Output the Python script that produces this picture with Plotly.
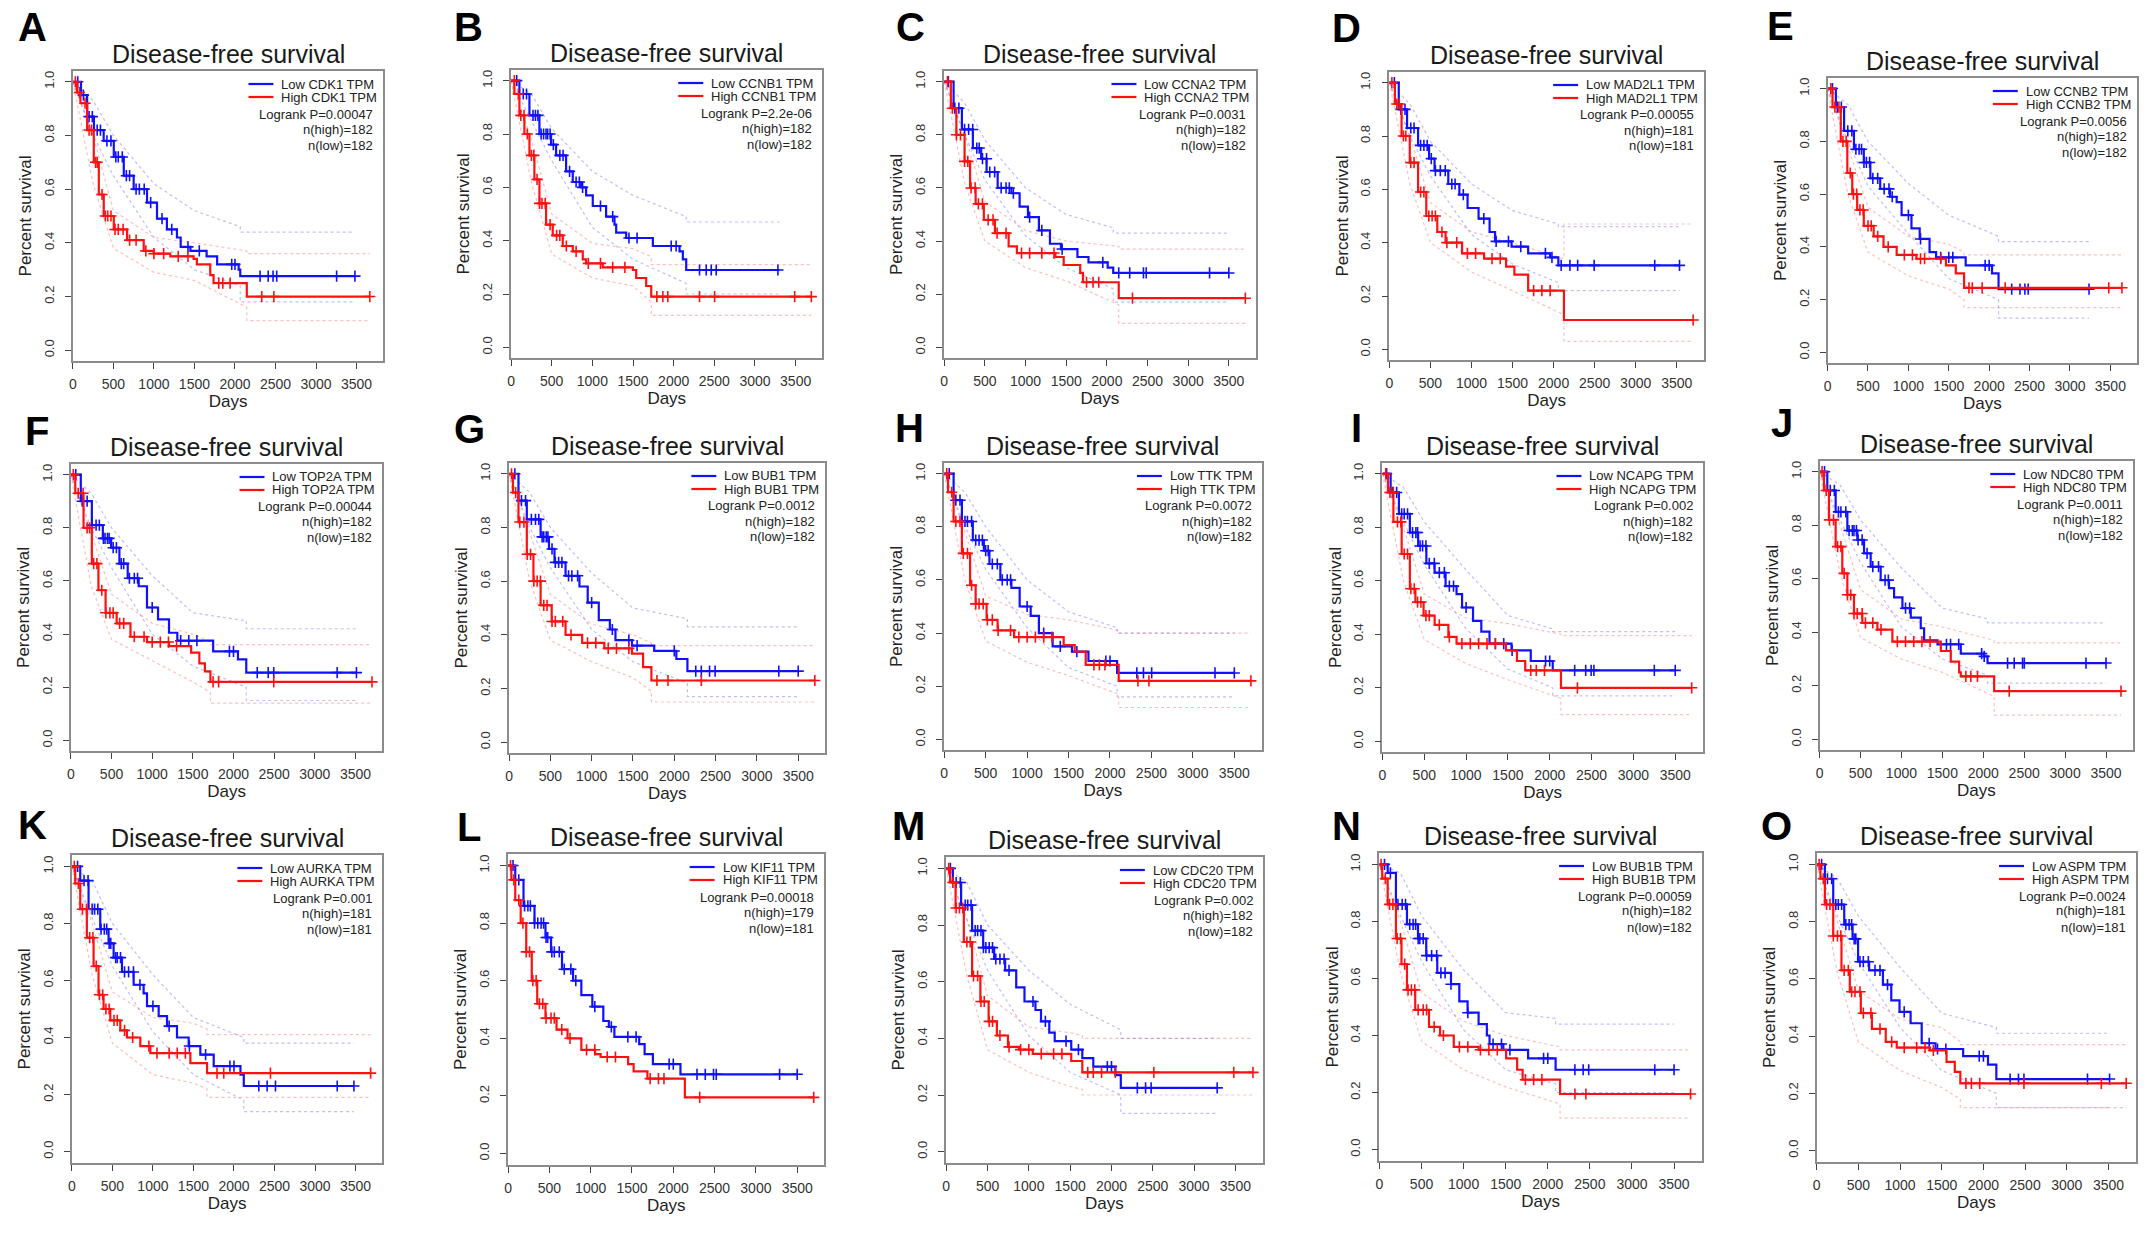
import plotly.graph_objects as go

W, H = 2150, 1235
FONT = "Liberation Sans, Arial, sans-serif"

# ---------------- tick labels ----------------
x_tick_vals = [0, 500, 1000, 1500, 2000, 2500, 3000, 3500]
y_tick_vals = [0.0, 0.2, 0.4, 0.6, 0.8, 1.0]
y_tick_text = ["0.0", "0.2", "0.4", "0.6", "0.8", "1.0"]

# ---------------- panel meta ----------------
panel_letters = ["A", "B", "C", "D", "E", "F", "G", "H", "I", "J", "K", "L", "M", "N", "O"]
genes = ["CDK1", "CCNB1", "CCNA2", "MAD2L1", "CCNB2", "TOP2A", "BUB1", "TTK", "NCAPG",
         "NDC80", "AURKA", "KIF11", "CDC20", "BUB1B", "ASPM"]
logrank_p = ["0.00047", "2.2e-06", "0.0031", "0.00055", "0.0056", "0.00044", "0.0012", "0.0072",
             "0.002", "0.0011", "0.001", "0.00018", "0.002", "0.00059", "0.0024"]
n_high = [182, 182, 182, 181, 182, 182, 182, 182, 182, 182, 181, 179, 182, 182, 181]
n_low = [182, 182, 182, 181, 182, 182, 182, 182, 182, 182, 181, 181, 182, 182, 181]

# ---------------- A: CDK1 ----------------
a_low_days = [0, 100, 176, 260, 380, 505, 628, 750, 915, 1038, 1160, 1284, 1330, 1450, 1650, 1780, 2045, 2065, 3480]
a_low_surv = [1.0, 0.95, 0.87, 0.82, 0.78, 0.72, 0.65, 0.60, 0.55, 0.49, 0.45, 0.42, 0.385, 0.37, 0.35, 0.32, 0.30, 0.276, 0.276]
a_high_days = [0, 50, 94, 176, 258, 320, 381, 505, 669, 874, 997, 1202, 1490, 1530, 1695, 1736, 2146, 3664]
a_high_surv = [1.0, 0.96, 0.92, 0.82, 0.70, 0.58, 0.50, 0.45, 0.41, 0.37, 0.36, 0.35, 0.34, 0.32, 0.28, 0.25, 0.20, 0.20]
a_low_cens = [60, 130, 200, 240, 300, 340, 420, 470, 530, 560, 610, 660, 700, 780, 820, 880, 960, 1100, 1220, 1420, 1560, 1960, 2000, 2310, 2410, 2470, 2515, 3254, 3480]
a_high_cens = [30, 80, 150, 200, 230, 280, 300, 360, 400, 430, 470, 520, 560, 620, 700, 780, 900, 1000, 1120, 1300, 1420, 1800, 1850, 1940, 2330, 2480, 3664]
a_low_ci_days = [0, 250, 500, 1000, 1500, 2065, 2065, 3480]
a_low_ci_up = [1.0, 0.93, 0.80, 0.62, 0.52, 0.46, 0.44, 0.44]
a_low_ci_lo = [1.0, 0.80, 0.65, 0.42, 0.30, 0.24, 0.18, 0.18]
a_high_ci_days = [0, 250, 500, 1000, 1500, 2146, 2146, 3664]
a_high_ci_up = [1.0, 0.80, 0.52, 0.42, 0.40, 0.37, 0.36, 0.36]
a_high_ci_lo = [1.0, 0.62, 0.38, 0.29, 0.26, 0.16, 0.11, 0.11]

# ---------------- B: CCNB1 ----------------
b_low_days = [0, 103, 226, 349, 492, 554, 677, 759, 862, 923, 1005, 1169, 1272, 1293, 1416, 1744, 2072, 2113, 2154, 3302]
b_low_surv = [1.0, 0.95, 0.87, 0.80, 0.76, 0.72, 0.66, 0.62, 0.60, 0.57, 0.53, 0.49, 0.46, 0.43, 0.41, 0.38, 0.36, 0.33, 0.29, 0.29]
b_high_days = [0, 41, 103, 164, 226, 287, 349, 431, 513, 636, 759, 882, 923, 1128, 1498, 1539, 1662, 1724, 3693]
b_high_surv = [1.0, 0.95, 0.87, 0.80, 0.72, 0.63, 0.54, 0.46, 0.42, 0.38, 0.36, 0.33, 0.315, 0.30, 0.29, 0.26, 0.23, 0.19, 0.19]
b_low_cens = [70, 150, 190, 270, 300, 330, 370, 400, 430, 450, 480, 520, 600, 640, 720, 800, 840, 880, 1100, 1250, 1450, 1550, 1970, 2030, 2318, 2400, 2462, 2523, 3282]
b_high_cens = [40, 90, 120, 160, 200, 250, 280, 320, 350, 380, 420, 480, 560, 600, 680, 800, 950, 1100, 1250, 1400, 1793, 1867, 1928, 2318, 2503, 3488, 3693]
b_low_ci_days = [0, 250, 500, 1000, 1500, 2154, 2154, 3302]
b_low_ci_up = [1.0, 0.95, 0.82, 0.66, 0.57, 0.49, 0.47, 0.47]
b_low_ci_lo = [1.0, 0.85, 0.70, 0.45, 0.33, 0.24, 0.20, 0.20]
b_high_ci_days = [0, 250, 500, 1000, 1500, 1724, 1724, 3693]
b_high_ci_up = [1.0, 0.78, 0.50, 0.39, 0.37, 0.34, 0.31, 0.31]
b_high_ci_lo = [1.0, 0.62, 0.35, 0.26, 0.23, 0.17, 0.12, 0.12]

# ---------------- C: CCNA2 ----------------
c_low_days = [0, 115, 217, 352, 454, 521, 657, 826, 927, 1029, 1164, 1300, 1435, 1638, 1774, 2010, 2078, 3500]
c_low_surv = [1.0, 0.90, 0.82, 0.75, 0.71, 0.66, 0.60, 0.58, 0.53, 0.49, 0.44, 0.39, 0.37, 0.34, 0.32, 0.30, 0.28, 0.28]
c_high_days = [0, 81, 149, 250, 318, 386, 487, 623, 792, 894, 1367, 1469, 1672, 1706, 2146, 3703]
c_high_surv = [1.0, 0.90, 0.80, 0.70, 0.60, 0.54, 0.48, 0.43, 0.38, 0.355, 0.34, 0.31, 0.28, 0.245, 0.185, 0.185]
c_low_cens = [50, 130, 180, 250, 300, 350, 400, 430, 470, 520, 560, 620, 700, 760, 800, 850, 1050, 1200, 1450, 1950, 2146, 2281, 2450, 2484, 3263, 3500]
c_high_cens = [40, 100, 150, 200, 250, 290, 330, 380, 420, 470, 540, 600, 650, 760, 950, 1050, 1200, 1350, 1750, 1830, 1900, 2315, 3703]
c_low_ci_days = [0, 250, 500, 1000, 1500, 2078, 2078, 3500]
c_low_ci_up = [1.0, 0.92, 0.78, 0.60, 0.50, 0.45, 0.43, 0.43]
c_low_ci_lo = [1.0, 0.80, 0.63, 0.42, 0.30, 0.22, 0.17, 0.17]
c_high_ci_days = [0, 250, 500, 1000, 1500, 2146, 2146, 3703]
c_high_ci_up = [1.0, 0.80, 0.55, 0.44, 0.40, 0.38, 0.37, 0.37]
c_high_ci_lo = [1.0, 0.62, 0.40, 0.30, 0.25, 0.16, 0.09, 0.09]

# ---------------- D: MAD2L1 ----------------
d_low_days = [0, 114, 215, 349, 483, 550, 717, 852, 952, 1086, 1220, 1287, 1488, 1690, 1958, 2058, 3534]
d_low_surv = [1.0, 0.90, 0.83, 0.765, 0.715, 0.67, 0.62, 0.58, 0.53, 0.49, 0.44, 0.405, 0.385, 0.36, 0.345, 0.315, 0.315]
d_high_days = [0, 67, 148, 248, 349, 449, 583, 684, 885, 1153, 1421, 1522, 1690, 2126, 3700]
d_high_surv = [1.0, 0.92, 0.80, 0.70, 0.59, 0.50, 0.44, 0.40, 0.36, 0.34, 0.31, 0.28, 0.22, 0.11, 0.11]
d_low_cens = [60, 140, 190, 260, 300, 380, 420, 460, 510, 560, 620, 680, 760, 800, 900, 1150, 1300, 1450, 1600, 1900, 1980, 2092, 2199, 2293, 2494, 3232, 3534]
d_high_cens = [30, 90, 120, 170, 200, 260, 300, 380, 420, 480, 520, 560, 640, 700, 820, 950, 1050, 1250, 1350, 1757, 1857, 1958, 3700]
d_low_ci_days = [0, 250, 500, 1000, 1500, 2058, 2058, 3534]
d_low_ci_up = [1.0, 0.92, 0.78, 0.62, 0.52, 0.47, 0.46, 0.46]
d_low_ci_lo = [1.0, 0.80, 0.65, 0.43, 0.32, 0.25, 0.22, 0.22]
d_high_ci_days = [0, 250, 500, 1000, 1500, 2126, 2126, 3700]
d_high_ci_up = [1.0, 0.80, 0.55, 0.44, 0.40, 0.34, 0.47, 0.47]
d_high_ci_lo = [1.0, 0.62, 0.40, 0.29, 0.22, 0.13, 0.03, 0.03]

# ---------------- E: CCNB2 ----------------
e_low_days = [0, 102, 204, 326, 448, 529, 651, 773, 855, 916, 1038, 1140, 1262, 1343, 1709, 2035, 2116, 3236]
e_low_surv = [1.0, 0.93, 0.84, 0.77, 0.72, 0.66, 0.62, 0.59, 0.57, 0.52, 0.47, 0.43, 0.38, 0.36, 0.33, 0.30, 0.24, 0.24]
e_high_days = [0, 61, 163, 244, 305, 366, 448, 570, 692, 855, 1099, 1465, 1587, 1689, 3643]
e_high_surv = [1.0, 0.93, 0.80, 0.68, 0.60, 0.54, 0.48, 0.44, 0.40, 0.37, 0.355, 0.33, 0.30, 0.245, 0.245]
e_low_cens = [60, 120, 170, 250, 300, 350, 390, 420, 450, 480, 520, 560, 620, 700, 760, 800, 1000, 1150, 1400, 1500, 1550, 1950, 2000, 2279, 2381, 2442, 2483, 3236]
e_high_cens = [40, 90, 140, 190, 230, 280, 320, 360, 400, 440, 500, 540, 620, 750, 950, 1050, 1150, 1200, 1400, 1750, 1791, 1913, 2198, 3480, 3643]
e_low_ci_days = [0, 250, 500, 1000, 1500, 2116, 2116, 3236]
e_low_ci_up = [1.0, 0.94, 0.80, 0.64, 0.52, 0.44, 0.42, 0.42]
e_low_ci_lo = [1.0, 0.80, 0.63, 0.45, 0.28, 0.20, 0.13, 0.13]
e_high_ci_days = [0, 250, 500, 1000, 1500, 1689, 1689, 3643]
e_high_ci_up = [1.0, 0.78, 0.55, 0.44, 0.41, 0.38, 0.37, 0.37]
e_high_ci_lo = [1.0, 0.60, 0.38, 0.29, 0.24, 0.20, 0.17, 0.17]

# ---------------- F: TOP2A ----------------
f_low_days = [0, 122, 258, 393, 495, 597, 699, 834, 936, 1072, 1207, 1309, 1750, 2055, 2157, 3513]
f_low_surv = [1.0, 0.90, 0.81, 0.76, 0.725, 0.665, 0.61, 0.58, 0.50, 0.455, 0.405, 0.375, 0.335, 0.305, 0.255, 0.255]
f_high_days = [0, 54, 156, 258, 339, 427, 563, 733, 936, 1207, 1479, 1580, 1648, 1716, 3703]
f_high_surv = [1.0, 0.93, 0.80, 0.665, 0.565, 0.48, 0.44, 0.39, 0.37, 0.355, 0.33, 0.29, 0.26, 0.22, 0.22]
f_low_cens = [60, 140, 200, 260, 310, 350, 400, 420, 450, 470, 520, 560, 620, 650, 720, 780, 820, 1000, 1350, 1450, 1550, 1950, 2000, 2292, 2427, 2495, 3275, 3512]
f_high_cens = [30, 90, 150, 200, 230, 280, 320, 380, 430, 480, 520, 600, 650, 780, 900, 1000, 1100, 1200, 1300, 1749, 1817, 2495, 3703]
f_low_ci_days = [0, 250, 500, 1000, 1500, 2157, 2157, 3513]
f_low_ci_up = [1.0, 0.93, 0.80, 0.62, 0.48, 0.45, 0.42, 0.42]
f_low_ci_lo = [1.0, 0.80, 0.65, 0.40, 0.28, 0.20, 0.15, 0.15]
f_high_ci_days = [0, 250, 500, 1000, 1500, 1716, 1716, 3703]
f_high_ci_up = [1.0, 0.78, 0.55, 0.44, 0.40, 0.37, 0.36, 0.36]
f_high_ci_lo = [1.0, 0.58, 0.38, 0.30, 0.22, 0.18, 0.14, 0.14]

# ---------------- G: BUB1 ----------------
g_low_days = [0, 114, 215, 382, 483, 550, 684, 852, 952, 1086, 1220, 1288, 1488, 1757, 2025, 2159, 3500]
g_low_surv = [1.0, 0.90, 0.83, 0.765, 0.72, 0.67, 0.62, 0.58, 0.52, 0.455, 0.42, 0.38, 0.36, 0.34, 0.31, 0.265, 0.265]
g_high_days = [0, 47, 114, 215, 295, 382, 516, 684, 885, 1153, 1488, 1622, 1723, 3701]
g_high_surv = [1.0, 0.93, 0.82, 0.70, 0.60, 0.51, 0.45, 0.40, 0.37, 0.35, 0.33, 0.28, 0.23, 0.23]
g_low_cens = [70, 150, 200, 270, 320, 360, 400, 420, 450, 470, 520, 560, 600, 640, 720, 760, 830, 1000, 1250, 1450, 1550, 2000, 2260, 2327, 2427, 2494, 3265, 3500]
g_high_cens = [30, 80, 130, 180, 220, 260, 300, 340, 380, 420, 460, 520, 560, 650, 750, 950, 1050, 1200, 1300, 1450, 1790, 1924, 2327, 3701]
g_low_ci_days = [0, 250, 500, 1000, 1500, 2159, 2159, 3500]
g_low_ci_up = [1.0, 0.93, 0.80, 0.63, 0.50, 0.46, 0.43, 0.43]
g_low_ci_lo = [1.0, 0.80, 0.65, 0.42, 0.30, 0.22, 0.17, 0.17]
g_high_ci_days = [0, 250, 500, 1000, 1500, 1723, 1723, 3701]
g_high_ci_up = [1.0, 0.78, 0.55, 0.44, 0.40, 0.37, 0.36, 0.36]
g_high_ci_lo = [1.0, 0.60, 0.38, 0.30, 0.24, 0.19, 0.15, 0.15]

# ---------------- H: TTK ----------------
h_low_days = [0, 113, 213, 345, 478, 545, 677, 810, 910, 1043, 1142, 1308, 1541, 1740, 2086, 3500]
h_low_surv = [1.0, 0.90, 0.82, 0.75, 0.71, 0.66, 0.60, 0.57, 0.50, 0.465, 0.40, 0.35, 0.33, 0.295, 0.25, 0.25]
h_high_days = [0, 46, 113, 213, 312, 379, 511, 644, 843, 1441, 1574, 1707, 2105, 3700]
h_high_surv = [1.0, 0.93, 0.82, 0.70, 0.58, 0.51, 0.45, 0.41, 0.385, 0.355, 0.33, 0.28, 0.22, 0.22]
h_low_cens = [60, 140, 190, 250, 280, 330, 380, 420, 460, 500, 530, 580, 640, 700, 760, 800, 1000, 1200, 1400, 1600, 1950, 2000, 2324, 2404, 2503, 3267, 3500]
h_high_cens = [30, 90, 140, 190, 230, 280, 330, 380, 420, 470, 520, 580, 650, 800, 900, 1000, 1100, 1200, 1300, 1806, 1872, 1939, 2337, 2470, 3700]
h_low_ci_days = [0, 250, 500, 1000, 1500, 2086, 2086, 3500]
h_low_ci_up = [1.0, 0.93, 0.80, 0.60, 0.48, 0.42, 0.40, 0.40]
h_low_ci_lo = [1.0, 0.80, 0.64, 0.42, 0.27, 0.20, 0.16, 0.16]
h_high_ci_days = [0, 250, 500, 1000, 1500, 2105, 2105, 3700]
h_high_ci_up = [1.0, 0.78, 0.54, 0.47, 0.45, 0.41, 0.40, 0.40]
h_high_ci_lo = [1.0, 0.60, 0.37, 0.29, 0.24, 0.17, 0.12, 0.12]

# ---------------- I: NCAPG ----------------
i_low_days = [0, 98, 197, 328, 427, 525, 624, 755, 886, 952, 1083, 1182, 1280, 1543, 1773, 2036, 3500]
i_low_surv = [1.0, 0.93, 0.85, 0.78, 0.73, 0.665, 0.63, 0.58, 0.55, 0.50, 0.45, 0.41, 0.365, 0.34, 0.30, 0.265, 0.265]
i_high_days = [0, 66, 131, 230, 328, 394, 492, 624, 788, 886, 1477, 1608, 1707, 2134, 3697]
i_high_surv = [1.0, 0.93, 0.82, 0.70, 0.57, 0.52, 0.47, 0.435, 0.39, 0.365, 0.34, 0.30, 0.265, 0.20, 0.20]
i_low_cens = [50, 120, 170, 230, 260, 300, 360, 400, 420, 450, 480, 520, 560, 620, 680, 740, 800, 850, 1000, 1350, 1450, 1550, 1950, 2000, 2298, 2430, 2495, 2528, 3250, 3500]
i_high_cens = [40, 90, 130, 180, 220, 260, 300, 340, 380, 420, 460, 520, 560, 680, 800, 950, 1050, 1150, 1250, 1350, 1773, 1839, 1937, 2331, 3697]
i_low_ci_days = [0, 250, 500, 1000, 1500, 2036, 2036, 3500]
i_low_ci_up = [1.0, 0.95, 0.82, 0.64, 0.47, 0.42, 0.41, 0.41]
i_low_ci_lo = [1.0, 0.82, 0.66, 0.42, 0.27, 0.20, 0.17, 0.17]
i_high_ci_days = [0, 250, 500, 1000, 1500, 2134, 2134, 3697]
i_high_ci_up = [1.0, 0.80, 0.55, 0.46, 0.44, 0.40, 0.395, 0.395]
i_high_ci_lo = [1.0, 0.60, 0.38, 0.29, 0.23, 0.16, 0.10, 0.10]

# ---------------- J: NDC80 ----------------
j_low_days = [0, 94, 196, 339, 461, 543, 624, 746, 848, 910, 1012, 1114, 1236, 1277, 1440, 1725, 2011, 2052, 3500]
j_low_surv = [1.0, 0.93, 0.85, 0.78, 0.745, 0.695, 0.645, 0.595, 0.565, 0.53, 0.49, 0.455, 0.415, 0.37, 0.355, 0.32, 0.31, 0.285, 0.285]
j_high_days = [0, 53, 114, 196, 277, 339, 420, 522, 706, 889, 1481, 1603, 1705, 1725, 2133, 3683]
j_high_surv = [1.0, 0.93, 0.82, 0.72, 0.62, 0.54, 0.47, 0.435, 0.41, 0.365, 0.33, 0.29, 0.25, 0.235, 0.18, 0.18]
j_low_cens = [60, 130, 180, 230, 260, 320, 360, 400, 420, 450, 470, 520, 580, 650, 720, 800, 840, 1050, 1100, 1550, 1600, 1700, 1980, 2011, 2297, 2378, 2480, 2501, 3255, 3500]
j_high_cens = [30, 80, 120, 170, 220, 260, 300, 340, 380, 420, 460, 520, 560, 650, 750, 950, 1050, 1150, 1250, 1350, 1787, 1848, 1929, 2317, 3683]
j_low_ci_days = [0, 250, 500, 1000, 1500, 2052, 2052, 3500]
j_low_ci_up = [1.0, 0.95, 0.82, 0.64, 0.49, 0.45, 0.435, 0.435]
j_low_ci_lo = [1.0, 0.82, 0.66, 0.42, 0.30, 0.24, 0.21, 0.21]
j_high_ci_days = [0, 250, 500, 1000, 1500, 2133, 2133, 3683]
j_high_ci_up = [1.0, 0.80, 0.56, 0.45, 0.42, 0.37, 0.36, 0.36]
j_high_ci_lo = [1.0, 0.62, 0.38, 0.30, 0.25, 0.16, 0.09, 0.09]

# ---------------- K: AURKA ----------------
k_low_days = [0, 103, 206, 350, 453, 515, 618, 762, 885, 927, 1071, 1174, 1297, 1441, 1585, 1750, 2080, 2121, 3480]
k_low_surv = [1.0, 0.95, 0.85, 0.78, 0.73, 0.68, 0.63, 0.585, 0.555, 0.51, 0.475, 0.44, 0.40, 0.37, 0.34, 0.30, 0.27, 0.23, 0.23]
k_high_days = [0, 41, 103, 185, 268, 329, 391, 474, 597, 679, 844, 968, 1462, 1668, 3686]
k_high_surv = [1.0, 0.94, 0.85, 0.75, 0.65, 0.55, 0.50, 0.46, 0.425, 0.40, 0.37, 0.345, 0.31, 0.275, 0.275]
k_low_cens = [70, 150, 200, 250, 280, 320, 360, 400, 430, 460, 480, 540, 560, 600, 650, 700, 760, 840, 1000, 1200, 1450, 1650, 1950, 2000, 2306, 2409, 2512, 3274, 3480]
k_high_cens = [30, 80, 130, 180, 220, 260, 300, 340, 380, 420, 460, 520, 560, 650, 750, 950, 1050, 1200, 1300, 1400, 1791, 1874, 2450, 3686]
k_low_ci_days = [0, 250, 500, 1000, 1500, 2121, 2121, 3480]
k_low_ci_up = [1.0, 0.95, 0.80, 0.62, 0.47, 0.40, 0.38, 0.38]
k_low_ci_lo = [1.0, 0.82, 0.65, 0.42, 0.27, 0.18, 0.14, 0.14]
k_high_ci_days = [0, 250, 500, 1000, 1500, 1668, 1668, 3686]
k_high_ci_up = [1.0, 0.80, 0.56, 0.47, 0.45, 0.43, 0.41, 0.41]
k_high_ci_lo = [1.0, 0.62, 0.38, 0.27, 0.24, 0.22, 0.19, 0.19]

# ---------------- L: KIF11 (no confidence bands drawn) ----------------
l_low_days = [0, 87, 187, 320, 453, 520, 653, 787, 887, 1020, 1153, 1220, 1287, 1587, 1653, 1753, 2087, 3500]
l_low_surv = [1.0, 0.95, 0.86, 0.80, 0.75, 0.70, 0.64, 0.60, 0.55, 0.51, 0.46, 0.44, 0.405, 0.38, 0.345, 0.31, 0.275, 0.275]
l_high_days = [0, 40, 87, 153, 220, 287, 353, 453, 587, 720, 887, 1053, 1120, 1453, 1520, 1687, 2140, 3700]
l_high_surv = [1.0, 0.95, 0.88, 0.80, 0.70, 0.60, 0.52, 0.47, 0.43, 0.40, 0.36, 0.345, 0.335, 0.31, 0.285, 0.26, 0.195, 0.195]
l_low_cens = [60, 130, 200, 240, 270, 320, 360, 400, 430, 460, 480, 530, 560, 620, 680, 760, 820, 1050, 1250, 1450, 1550, 1950, 2000, 2287, 2387, 2487, 2520, 3287, 3500]
l_high_cens = [30, 70, 130, 180, 220, 260, 300, 340, 380, 420, 460, 520, 560, 650, 750, 950, 1050, 1200, 1300, 1720, 1820, 1887, 2320, 3700]

# ---------------- M: CDC20 ----------------
m_low_days = [0, 80, 180, 313, 447, 580, 713, 847, 947, 1080, 1147, 1247, 1313, 1513, 1647, 1780, 2047, 2113, 3280]
m_low_surv = [1.0, 0.95, 0.87, 0.78, 0.72, 0.68, 0.64, 0.58, 0.53, 0.50, 0.46, 0.42, 0.39, 0.36, 0.33, 0.30, 0.27, 0.225, 0.225]
m_high_days = [0, 47, 113, 213, 313, 413, 513, 613, 747, 880, 1047, 1513, 1647, 3713]
m_high_surv = [1.0, 0.95, 0.86, 0.74, 0.62, 0.53, 0.46, 0.41, 0.37, 0.36, 0.345, 0.32, 0.28, 0.28]
m_low_cens = [50, 120, 170, 230, 260, 300, 350, 380, 420, 450, 480, 520, 560, 600, 650, 700, 760, 1050, 1200, 1450, 1600, 1950, 2000, 2313, 2413, 2480, 3280]
m_high_cens = [30, 80, 120, 160, 200, 250, 290, 330, 380, 420, 460, 520, 560, 650, 760, 900, 1000, 1150, 1300, 1400, 1713, 1780, 1880, 2047, 2513, 3480, 3713]
m_low_ci_days = [0, 250, 500, 1000, 1500, 2113, 2113, 3280]
m_low_ci_up = [1.0, 0.95, 0.80, 0.64, 0.52, 0.43, 0.40, 0.40]
m_low_ci_lo = [1.0, 0.82, 0.64, 0.41, 0.28, 0.20, 0.135, 0.135]
m_high_ci_days = [0, 250, 500, 1000, 1500, 1647, 1647, 3713]
m_high_ci_up = [1.0, 0.82, 0.55, 0.44, 0.42, 0.41, 0.40, 0.40]
m_high_ci_lo = [1.0, 0.62, 0.36, 0.28, 0.23, 0.22, 0.20, 0.20]

# ---------------- N: BUB1B ----------------
n_low_days = [0, 98, 196, 327, 458, 556, 687, 850, 949, 1047, 1178, 1276, 1308, 1472, 1766, 2093, 3500]
n_low_surv = [1.0, 0.97, 0.86, 0.79, 0.74, 0.68, 0.62, 0.58, 0.52, 0.48, 0.44, 0.40, 0.37, 0.35, 0.32, 0.28, 0.28]
n_high_days = [0, 33, 98, 196, 262, 327, 425, 589, 720, 883, 1178, 1505, 1636, 1701, 2146, 3696]
n_high_surv = [1.0, 0.95, 0.86, 0.74, 0.65, 0.56, 0.49, 0.43, 0.40, 0.36, 0.35, 0.32, 0.28, 0.245, 0.195, 0.195]
n_low_cens = [60, 130, 220, 270, 310, 360, 400, 430, 460, 480, 520, 560, 620, 680, 730, 780, 850, 1050, 1350, 1450, 1550, 1950, 2000, 2322, 2420, 2486, 3271, 3500]
n_high_cens = [20, 70, 120, 160, 210, 250, 300, 340, 380, 420, 460, 520, 560, 650, 760, 950, 1050, 1200, 1300, 1400, 1734, 1832, 1930, 2322, 2453, 3696]
n_low_ci_days = [0, 250, 500, 1000, 1500, 2093, 2093, 3500]
n_low_ci_up = [1.0, 0.97, 0.82, 0.63, 0.48, 0.46, 0.44, 0.44]
n_low_ci_lo = [1.0, 0.82, 0.66, 0.42, 0.28, 0.23, 0.20, 0.20]
n_high_ci_days = [0, 250, 500, 1000, 1500, 2146, 2146, 3696]
n_high_ci_up = [1.0, 0.80, 0.55, 0.45, 0.40, 0.36, 0.35, 0.35]
n_high_ci_lo = [1.0, 0.62, 0.38, 0.28, 0.22, 0.16, 0.11, 0.11]

# ---------------- O: ASPM ----------------
o_low_days = [0, 99, 199, 331, 431, 497, 630, 795, 895, 994, 1127, 1260, 1426, 1757, 2055, 2155, 3513]
o_low_surv = [1.0, 0.95, 0.86, 0.79, 0.74, 0.66, 0.63, 0.58, 0.525, 0.485, 0.445, 0.375, 0.355, 0.33, 0.30, 0.25, 0.25]
o_high_days = [0, 46, 99, 199, 298, 398, 530, 663, 829, 961, 1359, 1558, 1657, 1723, 3712]
o_high_surv = [1.0, 0.95, 0.86, 0.75, 0.63, 0.555, 0.48, 0.425, 0.38, 0.36, 0.35, 0.31, 0.275, 0.235, 0.235]
o_low_cens = [60, 130, 180, 230, 260, 300, 350, 390, 420, 450, 470, 520, 560, 620, 700, 760, 850, 1050, 1350, 1450, 1550, 1950, 2000, 2320, 2420, 2486, 3248, 3513]
o_high_cens = [30, 80, 120, 160, 200, 250, 290, 330, 380, 420, 460, 520, 560, 650, 760, 900, 1050, 1200, 1300, 1400, 1790, 1856, 1956, 2486, 3414, 3712]
o_low_ci_days = [0, 250, 500, 1000, 1500, 2155, 2155, 3513]
o_low_ci_up = [1.0, 0.95, 0.82, 0.64, 0.48, 0.43, 0.41, 0.41]
o_low_ci_lo = [1.0, 0.82, 0.66, 0.43, 0.28, 0.20, 0.15, 0.15]
o_high_ci_days = [0, 250, 500, 1000, 1500, 1723, 1723, 3712]
o_high_ci_up = [1.0, 0.80, 0.56, 0.46, 0.43, 0.38, 0.37, 0.37]
o_high_ci_lo = [1.0, 0.62, 0.38, 0.28, 0.22, 0.18, 0.15, 0.15]

# ---------------- assemble ----------------
curves_low = [(a_low_days, a_low_surv), (b_low_days, b_low_surv), (c_low_days, c_low_surv),
              (d_low_days, d_low_surv), (e_low_days, e_low_surv), (f_low_days, f_low_surv),
              (g_low_days, g_low_surv), (h_low_days, h_low_surv), (i_low_days, i_low_surv),
              (j_low_days, j_low_surv), (k_low_days, k_low_surv), (l_low_days, l_low_surv),
              (m_low_days, m_low_surv), (n_low_days, n_low_surv), (o_low_days, o_low_surv)]
curves_high = [(a_high_days, a_high_surv), (b_high_days, b_high_surv), (c_high_days, c_high_surv),
               (d_high_days, d_high_surv), (e_high_days, e_high_surv), (f_high_days, f_high_surv),
               (g_high_days, g_high_surv), (h_high_days, h_high_surv), (i_high_days, i_high_surv),
               (j_high_days, j_high_surv), (k_high_days, k_high_surv), (l_high_days, l_high_surv),
               (m_high_days, m_high_surv), (n_high_days, n_high_surv), (o_high_days, o_high_surv)]
cens_low = [a_low_cens, b_low_cens, c_low_cens, d_low_cens, e_low_cens, f_low_cens, g_low_cens,
            h_low_cens, i_low_cens, j_low_cens, k_low_cens, l_low_cens, m_low_cens, n_low_cens, o_low_cens]
cens_high = [a_high_cens, b_high_cens, c_high_cens, d_high_cens, e_high_cens, f_high_cens, g_high_cens,
             h_high_cens, i_high_cens, j_high_cens, k_high_cens, l_high_cens, m_high_cens, n_high_cens, o_high_cens]
ci_low = [(a_low_ci_days, a_low_ci_up, a_low_ci_lo), (b_low_ci_days, b_low_ci_up, b_low_ci_lo),
          (c_low_ci_days, c_low_ci_up, c_low_ci_lo), (d_low_ci_days, d_low_ci_up, d_low_ci_lo),
          (e_low_ci_days, e_low_ci_up, e_low_ci_lo), (f_low_ci_days, f_low_ci_up, f_low_ci_lo),
          (g_low_ci_days, g_low_ci_up, g_low_ci_lo), (h_low_ci_days, h_low_ci_up, h_low_ci_lo),
          (i_low_ci_days, i_low_ci_up, i_low_ci_lo), (j_low_ci_days, j_low_ci_up, j_low_ci_lo),
          (k_low_ci_days, k_low_ci_up, k_low_ci_lo), None,
          (m_low_ci_days, m_low_ci_up, m_low_ci_lo), (n_low_ci_days, n_low_ci_up, n_low_ci_lo),
          (o_low_ci_days, o_low_ci_up, o_low_ci_lo)]
ci_high = [(a_high_ci_days, a_high_ci_up, a_high_ci_lo), (b_high_ci_days, b_high_ci_up, b_high_ci_lo),
           (c_high_ci_days, c_high_ci_up, c_high_ci_lo), (d_high_ci_days, d_high_ci_up, d_high_ci_lo),
           (e_high_ci_days, e_high_ci_up, e_high_ci_lo), (f_high_ci_days, f_high_ci_up, f_high_ci_lo),
           (g_high_ci_days, g_high_ci_up, g_high_ci_lo), (h_high_ci_days, h_high_ci_up, h_high_ci_lo),
           (i_high_ci_days, i_high_ci_up, i_high_ci_lo), (j_high_ci_days, j_high_ci_up, j_high_ci_lo),
           (k_high_ci_days, k_high_ci_up, k_high_ci_lo), None,
           (m_high_ci_days, m_high_ci_up, m_high_ci_lo), (n_high_ci_days, n_high_ci_up, n_high_ci_lo),
           (o_high_ci_days, o_high_ci_up, o_high_ci_lo)]

# plot-box geometry in pixels (left, right, top, bottom) -- layout only
panel_boxes = [
    (69, 380, 71, 361), (508, 820, 70, 358), (942, 1254, 71, 358), (1388, 1703, 72, 360), (1827, 2137, 78, 363),
    (67, 379, 464, 751), (506, 823, 463, 753), (942, 1260, 463, 750), (1381, 1702, 463, 752), (1819, 2133, 461, 750),
    (68, 379, 855, 1163), (505, 822, 854, 1165), (944, 1261, 857, 1163), (1378, 1701, 853, 1161), (1816, 2136, 853, 1162),
]
letter_pos = [
    (29, 27), (465, 27), (908, 27), (1345, 28), (1780, 26),
    (33, 431), (466, 429), (907, 428), (1355, 428), (1781, 423),
    (29, 825), (466, 827), (906, 826), (1345, 826), (1776, 826),
]

BLUE = "#1010FF"
RED = "#FF1010"
BLUE_CI = "rgba(70,70,255,0.35)"
RED_CI = "rgba(255,70,70,0.35)"

ARIAL_W = {' ': 278, 'H': 722, 'i': 222, 'g': 556, 'h': 556, 'T': 611, 'P': 667, 'M': 833, 'A': 667,
           'B': 667, 'C': 722, 'D': 722, 'E': 667, 'F': 611, 'G': 778, 'I': 278, 'K': 667, 'L': 556,
           'N': 722, 'O': 778, 'R': 722, 'S': 667, 'U': 722}


def text_width(s, size):
    return sum(ARIAL_W.get(ch, 556) for ch in s) * size / 1000.0


def step_value(days, surv, t):
    v = surv[0]
    for d, s in zip(days, surv):
        if d <= t:
            v = s
        else:
            break
    return v


fig = go.Figure()
layout = {}
annotations = []
shapes = []

for i in range(15):
    k = i + 1
    xs = "x" if k == 1 else f"x{k}"
    ys = "y" if k == 1 else f"y{k}"
    l, r, t, b = panel_boxes[i]

    # confidence bands
    for ci, col in ((ci_low[i], BLUE_CI), (ci_high[i], RED_CI)):
        if ci is None:
            continue
        cd, cu, clo = ci
        for vals in (cu, clo):
            fig.add_trace(go.Scatter(x=cd, y=vals, mode="lines", xaxis=xs, yaxis=ys,
                                     line=dict(color=col, width=1.2, dash="dot"),
                                     showlegend=False, hoverinfo="skip"))

    # survival curves and censor marks
    for (dd, ss), cens, col in ((curves_low[i], cens_low[i], BLUE), (curves_high[i], cens_high[i], RED)):
        assert len(dd) == len(ss)
        fig.add_trace(go.Scatter(x=dd, y=ss, mode="lines", xaxis=xs, yaxis=ys,
                                 line=dict(color=col, width=2.2, shape="hv"),
                                 showlegend=False))
        fig.add_trace(go.Scatter(x=cens, y=[step_value(dd, ss, c) for c in cens], mode="markers",
                                 xaxis=xs, yaxis=ys,
                                 marker=dict(symbol="cross-thin", size=8, color=col,
                                             line=dict(color=col, width=1.6)),
                                 showlegend=False))

    layout["xaxis" if k == 1 else f"xaxis{k}"] = dict(
        domain=[l / W, r / W], anchor=ys, range=[0, 3830],
        tickmode="array", tickvals=x_tick_vals, ticks="outside", ticklen=6, tickwidth=1,
        tickcolor="#444", showline=True, mirror=True, linecolor="#8c8c8c", linewidth=1.5,
        showgrid=False, zeroline=False, ticklabelstandoff=3,
        tickfont=dict(family=FONT, size=14, color="#333"),
        title=dict(text="Days", font=dict(family=FONT, size=17, color="#222"), standoff=4),
        fixedrange=True)
    layout["yaxis" if k == 1 else f"yaxis{k}"] = dict(
        domain=[1 - b / H, 1 - t / H], anchor=xs, range=[-0.04, 1.04],
        tickmode="array", tickvals=y_tick_vals, ticktext=y_tick_text, tickangle=-90,
        ticks="outside", ticklen=6, tickwidth=1, tickcolor="#444",
        showline=True, mirror=True, linecolor="#8c8c8c", linewidth=1.5,
        showgrid=False, zeroline=False, ticklabelstandoff=6,
        tickfont=dict(family=FONT, size=13, color="#333"),
        title=dict(text="Percent survival", font=dict(family=FONT, size=17, color="#222"), standoff=6),
        fixedrange=True)

    # title and panel letter
    annotations.append(dict(text="Disease-free survival", x=(l + r) / 2 / W, y=1 - (t - 17) / H,
                            xref="paper", yref="paper", xanchor="center", yanchor="middle",
                            showarrow=False, font=dict(family=FONT, size=25, color="#1a1a1a")))
    lx, ly = letter_pos[i]
    annotations.append(dict(text="<b>" + panel_letters[i] + "</b>", x=lx / W, y=1 - ly / H,
                            xref="paper", yref="paper", xanchor="center", yanchor="middle",
                            showarrow=False, font=dict(family=FONT, size=40, color="#000")))

    # legend block (lines + labels) and statistics
    right_px = r - 8
    high_label = f"High {genes[i]} TPM"
    low_label = f"Low {genes[i]} TPM"
    text_left = right_px - text_width(high_label, 13)
    for label, col, dy in ((low_label, BLUE, 13), (high_label, RED, 26)):
        yy = 1 - (t + dy) / H
        shapes.append(dict(type="line", xref="paper", yref="paper",
                           x0=(text_left - 31) / W, x1=(text_left - 6) / W, y0=yy, y1=yy,
                           line=dict(color=col, width=2.2)))
        annotations.append(dict(text=label, x=text_left / W, y=yy, xref="paper", yref="paper",
                                xanchor="left", yanchor="middle", showarrow=False,
                                font=dict(family=FONT, size=13, color="#222")))
    for txt, dy in ((f"Logrank P={logrank_p[i]}", 43), (f"n(high)={n_high[i]}", 58), (f"n(low)={n_low[i]}", 74)):
        annotations.append(dict(text=txt, x=right_px / W, y=1 - (t + dy) / H, xref="paper", yref="paper",
                                xanchor="right", yanchor="middle", showarrow=False,
                                font=dict(family=FONT, size=13, color="#222")))

fig.update_layout(
    width=W, height=H, margin=dict(l=0, r=0, t=0, b=0),
    paper_bgcolor="white", plot_bgcolor="white",
    showlegend=False, annotations=annotations, shapes=shapes,
    font=dict(family=FONT), **layout)

fig.write_html("out.html", config={"displayModeBar": False},
               post_script="document.body.style.margin='0';document.body.style.overflow='hidden';")
